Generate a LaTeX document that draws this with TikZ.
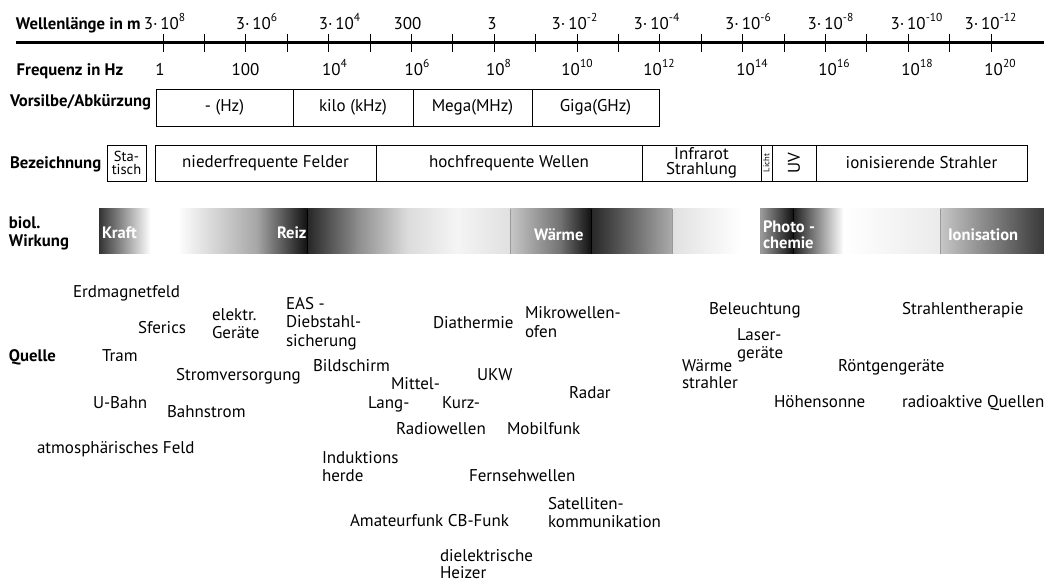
\documentclass[tikz,border=0pt]{standalone}
\usepackage{fontspec}
\setmainfont{PT Sans}
\newcommand\supx[1]{\raisebox{0.42em}{\fontsize{11.5}{12}\selectfont #1}}
\newcommand\tlab[1]{3·\,10\supx{#1}}
\newcommand\flab[1]{10\supx{#1}}
\begin{document}
\begin{tikzpicture}[x=1pt,y=-1pt,
  every node/.style={inner sep=0pt, outer sep=0pt},
  txt/.style={anchor=base west, font=\fontsize{17}{18}\selectfont},
  hd/.style={anchor=base west, font=\fontsize{16.7}{18}\selectfont\bfseries},
  ctr/.style={anchor=base, font=\fontsize{17}{18}\selectfont},
  wt/.style={anchor=base west, text=white, font=\fontsize{16.5}{18}\selectfont\bfseries},
  bx/.style={draw=black, line width=1pt, anchor=north west},
  tk/.style={line width=1pt},
  gl/.style={draw=gray!80, line width=0.6pt},
]
\useasboundingbox (0,0) rectangle (1044,581);

% ---------- axis ----------
\coordinate (axL) at (16,42.5);
\coordinate (axR) at (1044,42.5);
\draw[line width=3pt] (axL) -- (axR);
\foreach \k in {0,...,20}{
  \draw[tk] ({163+41.4*\k},34) -- ({163+41.4*\k},52);
}
\node[hd] (hwl) at (16,29) {Wellenlänge in m};
\node[hd] (hfq) at (16.7,75) {Frequenz in Hz};

\foreach \n/\x/\l in {w0/164.5/{\tlab{8}}, w1/256.5/{\tlab{6}}, w2/339.5/{\tlab{4}},
  w3/407.5/{300}, w4/492/{3}, w5/574.5/{\tlab{-2}}, w6/656.5/{\tlab{-4}},
  w7/748/{\tlab{-6}}, w8/830.5/{\tlab{-8}}, w9/916.5/{\tlab{-10}}, w10/990.5/{\tlab{-12}}}{
  \node[ctr] (\n) at (\x,29) {\l};
}
\foreach \n/\x/\l in {f0/160/{1}, f1/245.5/{100}, f2/334.5/{\flab{4}}, f3/417/{\flab{6}},
  f4/498.5/{\flab{8}}, f5/577/{\flab{10}}, f6/659/{\flab{12}}, f7/752/{\flab{14}},
  f8/834/{\flab{16}}, f9/917/{\flab{18}}, f10/1000/{\flab{20}}}{
  \node[ctr] (\n) at (\x,75) {\l};
}

% ---------- Vorsilbe ----------
\node[hd] (hvs) at (10,106) {Vorsilbe/Abkürzung};
\begin{scope}[every node/.append style={font=\fontsize{17}{18}\selectfont}]
\node[bx, minimum width=137pt, minimum height=37pt] (vhz) at (156,89) {- (Hz)};
\node[bx, minimum width=120pt, minimum height=37pt] (vk) at (293,89) {kilo (kHz)};
\node[bx, minimum width=119pt, minimum height=37pt] (vm) at (413,89) {Mega(MHz)};
\node[bx, minimum width=127pt, minimum height=37pt] (vg) at (532,89) {Giga(GHz)};
\end{scope}

% ---------- Bezeichnung ----------
\node[hd] (hbz) at (10,168) {Bezeichnung};
\node[bx, minimum width=39pt, minimum height=36pt] (bst) at (107,145) {};
\node[bx, minimum width=221pt, minimum height=36pt] (bnf) at (155,145) {};
\node[bx, minimum width=266pt, minimum height=36pt] (bhf) at (376,145) {};
\node[bx, minimum width=119pt, minimum height=36pt] (bir) at (642,145) {};
\node[bx, minimum width=11pt, minimum height=36pt] (bli) at (761,145) {};
\node[bx, minimum width=44pt, minimum height=36pt] (buv) at (772,145) {};
\node[bx, minimum width=211pt, minimum height=36pt] (bio) at (816,145) {};
\node[align=center, font=\fontsize{14.5}{12.5}\selectfont] (tst) at (bst.center) {Sta-\\tisch};
\node[font=\fontsize{17}{18}\selectfont] (tnf) at (bnf.center) {niederfrequente Felder};
\node[font=\fontsize{17}{18}\selectfont] (thf) at (bhf.center) {hochfrequente Wellen};
\node[align=center, font=\fontsize{17}{15}\selectfont] (tir) at (bir.center) {Infrarot\\Strahlung};
\node[rotate=90, font=\fontsize{8.5}{9}\selectfont] (tli) at (bli.center) {Licht};
\node[rotate=90, font=\fontsize{17}{18}\selectfont] (tuv) at (buv.center) {UV};
\node[font=\fontsize{17}{18}\selectfont] (tio) at (bio.center) {ionisierende Strahler};

% ---------- biol. Wirkung bar ----------
\node[hd] (hbi1) at (9,228) {biol.};
\node[hd] (hbi2) at (9,246) {Wirkung};
\def\yt{208.5}\def\yb{253.5}
\shade[left color=black!80, right color=white] (99,\yt) rectangle (150.5,\yb);
\fill[white] (150,\yt) rectangle (177.5,\yb);
\shade[left color=white, right color=black!35] (177,\yt) rectangle (257.5,\yb);
\shade[left color=black!35, right color=black!93] (257,\yt) rectangle (307,\yb);
\shade[left color=black!85, right color=black!45] (307,\yt) rectangle (357.5,\yb);
\shade[left color=black!45, right color=black!14] (357,\yt) rectangle (407.5,\yb);
\shade[left color=black!14, right color=black!4] (407,\yt) rectangle (457.5,\yb);
\shade[left color=black!4, right color=black!12] (457,\yt) rectangle (510,\yb);
\shade[left color=black!22, right color=black!55] (510,\yt) rectangle (560.5,\yb);
\shade[left color=black!55, right color=black!93] (560,\yt) rectangle (591,\yb);
\shade[left color=black!85, right color=black!33] (591,\yt) rectangle (672,\yb);
\shade[left color=black!12, right color=white] (672,\yt) rectangle (740.5,\yb);
\fill[white] (740,\yt) rectangle (760,\yb);
\shade[left color=black!38, right color=black!93] (760,\yt) rectangle (793,\yb);
\shade[left color=black!88, right color=white] (793,\yt) rectangle (843.5,\yb);
\shade[left color=white, right color=black!8] (843,\yt) rectangle (940,\yb);
\shade[left color=black!22, right color=black!78] (940,\yt) rectangle (1044,\yb);
\draw[gl] (510,\yt) -- (510,\yb);
\draw[gl] (672,\yt) -- (672,\yb);
\draw[gl] (940,\yt) -- (940,\yb);
\draw[gl] (760,\yt) -- (760,\yb);
\draw[black, line width=0.8pt] (307,\yt) -- (307,\yb);
\draw[black, line width=0.8pt] (591,\yt) -- (591,\yb);
\draw[black, line width=0.8pt] (793,\yt) -- (793,\yb);
\node[wt] (wkr) at (102,238) {Kraft};
\node[wt] (wre) at (277,238) {Reiz};
\node[wt] (wwa) at (534,240) {Wärme};
\node[wt] (wph1) at (763,232) {Photo -};
\node[wt] (wph2) at (763,248) {chemie};
\node[wt] (wio) at (948,240) {Ionisation};

% ---------- Quelle ----------
\node[hd] (hqu) at (9,361) {Quelle};
\node[txt] (q1) at (73,297) {Erdmagnetfeld};
\node[txt] (q2) at (138,333) {Sferics};
\node[txt] (q3a) at (212,320) {elektr.};
\node[txt] (q3b) at (212,338) {Geräte};
\node[txt] (q4a) at (286,309) {EAS -};
\node[txt] (q4b) at (286,327.5) {Diebstahl-};
\node[txt] (q4c) at (286,346) {sicherung};
\node[txt] (q5) at (102,361) {Tram};
\node[txt] (q6) at (176,380) {Stromversorgung};
\node[txt] (q7) at (313,371) {Bildschirm};
\node[txt] (q8) at (433,328) {Diathermie};
\node[txt] (q9a) at (525,318) {Mikrowellen-};
\node[txt] (q9b) at (525,337) {ofen};
\node[txt] (q10) at (477,380) {UKW};
\node[txt] (q11) at (391,389) {Mittel-};
\node[txt] (q12) at (368,408) {Lang-};
\node[txt] (q13) at (442,408) {Kurz-};
\node[txt] (q14) at (569,398) {Radar};
\node[txt] (q15) at (93,408) {U-Bahn};
\node[txt] (q16) at (167,417) {Bahnstrom};
\node[txt] (q17) at (396,434) {Radiowellen};
\node[txt] (q18) at (507,434) {Mobilfunk};
\node[txt] (q19) at (37,453) {atmosphärisches Feld};
\node[txt] (q20a) at (322,463) {Induktions};
\node[txt] (q20b) at (322,481.5) {herde};
\node[txt] (q21) at (469,481) {Fernsehwellen};
\node[txt] (q22) at (350,526) {Amateurfunk CB-Funk};
\node[txt] (q23a) at (548,509) {Satelliten-};
\node[txt] (q23b) at (548,527) {kommunikation};
\node[txt] (q24a) at (440,561) {dielektrische};
\node[txt] (q24b) at (440,578) {Heizer};
\node[txt] (q25) at (709,314) {Beleuchtung};
\node[txt] (q26) at (902,314) {Strahlentherapie};
\node[txt] (q27a) at (737,340) {Laser-};
\node[txt] (q27b) at (737,358) {geräte};
\node[txt] (q28a) at (682,371) {Wärme};
\node[txt] (q28b) at (682,388.5) {strahler};
\node[txt] (q29) at (838,371) {Röntgengeräte};
\node[txt] (q30) at (774,407) {Höhensonne};
\node[txt] (q31) at (902,407) {radioaktive Quellen};
\end{tikzpicture}
\end{document}
